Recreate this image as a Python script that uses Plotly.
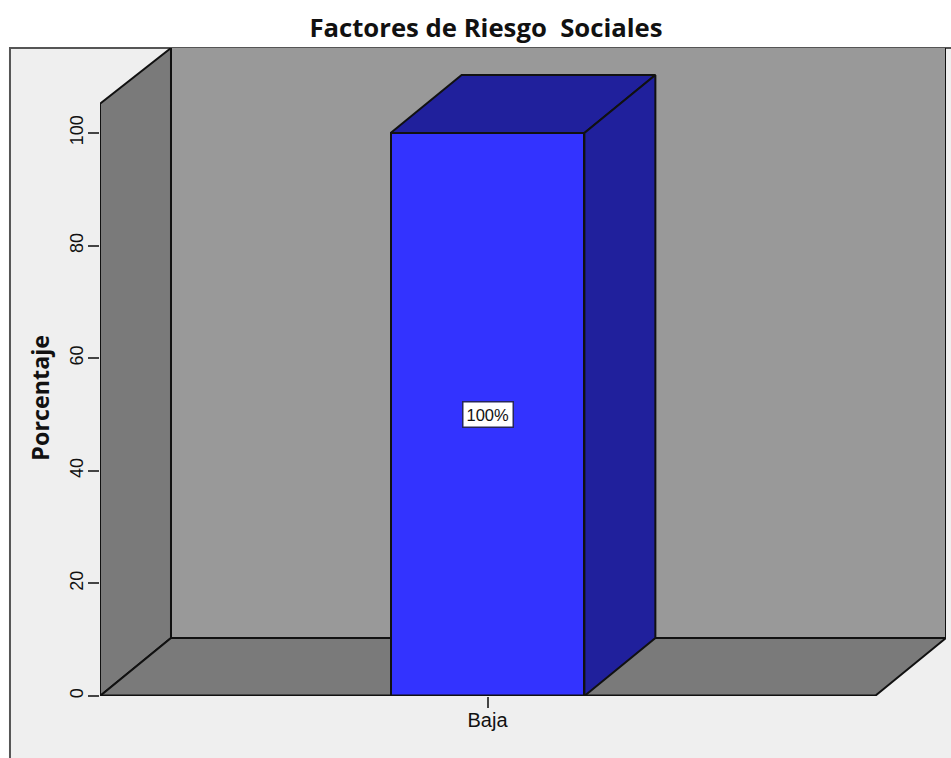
import plotly.graph_objects as go

# Chart data
categories = ["Baja"]
percentages = [100]
bar_labels = ["100%"]
y_ticks = [0, 20, 40, 60, 80, 100]

# Pseudo-3D extrusion, expressed in axis units
DEPTH_X = 0.0916
DEPTH_Y = 10.3
HALF_BAR = 0.125
X_LEFT, X_RIGHT = -0.5, 0.5
WALL_TOP = 115.1
LEFT_WALL_TOP = 105.2

FRONT_BLUE = "#3333ff"
DARK_BLUE = "#20209c"
WALL_GREY = "#999999"
SIDE_GREY = "#7a7a7a"
FRAME_GREY = "#efefef"
INK = "#111111"


def polygon(points, closed=True):
    return "M " + " L ".join(f"{x},{y}" for x, y in points) + (" Z" if closed else "")


def face(xs, ys, color):
    return go.Scatter(
        x=xs, y=ys, mode="lines", fill="toself", fillcolor=color,
        line=dict(color=INK, width=2), hoverinfo="skip", showlegend=False,
        cliponaxis=False,
    )


x_back = X_LEFT + DEPTH_X
x_back_right = X_RIGHT + DEPTH_X
value = percentages[0]
bl, br = -HALF_BAR, HALF_BAR

fig = go.Figure()

# Bar front face
fig.add_trace(go.Bar(
    x=[0], y=percentages, width=HALF_BAR * 2,
    marker=dict(color=FRONT_BLUE, line=dict(color=INK, width=2)),
    hoverinfo="skip", showlegend=False,
))

# Bar top and side faces, derived from the value
fig.add_trace(face([bl, br, br + DEPTH_X, bl + DEPTH_X, bl],
                   [value, value, value + DEPTH_Y, value + DEPTH_Y, value], DARK_BLUE))
fig.add_trace(face([br, br + DEPTH_X, br + DEPTH_X, br, br],
                   [0, DEPTH_Y, value + DEPTH_Y, value, 0], DARK_BLUE))

# Front floor edge runs over the foot of the bar, unclipped so it keeps its full width
fig.add_trace(go.Scatter(
    x=[X_LEFT, X_RIGHT], y=[0, 0], mode="lines", line=dict(color=INK, width=3),
    hoverinfo="skip", showlegend=False, cliponaxis=False,
))

fig.add_annotation(
    x=0, y=value / 2, text=bar_labels[0], showarrow=False,
    font=dict(family="Liberation Sans", size=16.5, color="#111111"),
    bgcolor="white", bordercolor="#26265a", borderwidth=1.5, borderpad=3,
)

# Light panel behind the plot
fig.add_shape(type="rect", xref="paper", yref="paper", layer="below",
              x0=-0.1064, x1=1.2, y0=-0.2, y1=1.0,
              fillcolor=FRAME_GREY, line=dict(color="#555555", width=2))

# Room: back wall, left wall and floor, with the back wall's outline left open at the top
wall_corners = [(x_back, WALL_TOP), (x_back, DEPTH_Y), (x_back_right, DEPTH_Y), (x_back_right, WALL_TOP)]
fig.add_shape(type="path", layer="below", path=polygon(wall_corners),
              fillcolor=WALL_GREY, line=dict(width=0))
fig.add_shape(type="path", layer="below", path=polygon(wall_corners, closed=False),
              line=dict(color=INK, width=2))
fig.add_shape(type="path", layer="below",
              path=polygon([(X_LEFT, 0), (x_back, DEPTH_Y), (x_back, WALL_TOP), (X_LEFT, LEFT_WALL_TOP)]),
              fillcolor=SIDE_GREY, line=dict(color=INK, width=2))
fig.add_shape(type="path", layer="below",
              path=polygon([(X_LEFT, 0), (X_RIGHT, 0), (x_back_right, DEPTH_Y), (x_back, DEPTH_Y)]),
              fillcolor=SIDE_GREY, line=dict(color=INK, width=2))

# Value axis title, centred on the value range rather than the full wall height
fig.add_annotation(
    xref="paper", x=-0.0709, xanchor="center", yref="y", y=53, text="<b>Porcentaje</b>", textangle=-90,
    showarrow=False, font=dict(family="Open Sans", size=23.3, color="#111111"),
)

fig.update_layout(
    width=951, height=758,
    margin=dict(l=100, r=5, t=48, b=62, autoexpand=False),
    paper_bgcolor="white", plot_bgcolor="rgba(0,0,0,0)",
    title=dict(text="<b>Factores de Riesgo  Sociales</b>", x=0.511, xanchor="center", y=0.9625, yanchor="middle",
               font=dict(family="Open Sans", size=25.7, color="#111111")),
    bargap=0,
)
fig.update_xaxes(
    range=[X_LEFT, x_back_right], tickvals=[0], ticktext=categories,
    ticks="outside", ticklen=11, tickwidth=2, tickcolor="#444444",
    tickfont=dict(family="Liberation Sans", size=20, color="#111111"),
    ticklabelstandoff=-5,
    showgrid=False, zeroline=False, showline=False,
)
fig.update_yaxes(
    range=[0, WALL_TOP], tickvals=y_ticks, tickangle=-90,
    ticks="outside", ticklen=11, tickwidth=2, tickcolor="#444444",
    tickfont=dict(family="Liberation Sans", size=18, color="#111111"),
    ticklabelstandoff=-2,
    showgrid=False, zeroline=False, showline=False,
)

fig.write_html("out.html")
